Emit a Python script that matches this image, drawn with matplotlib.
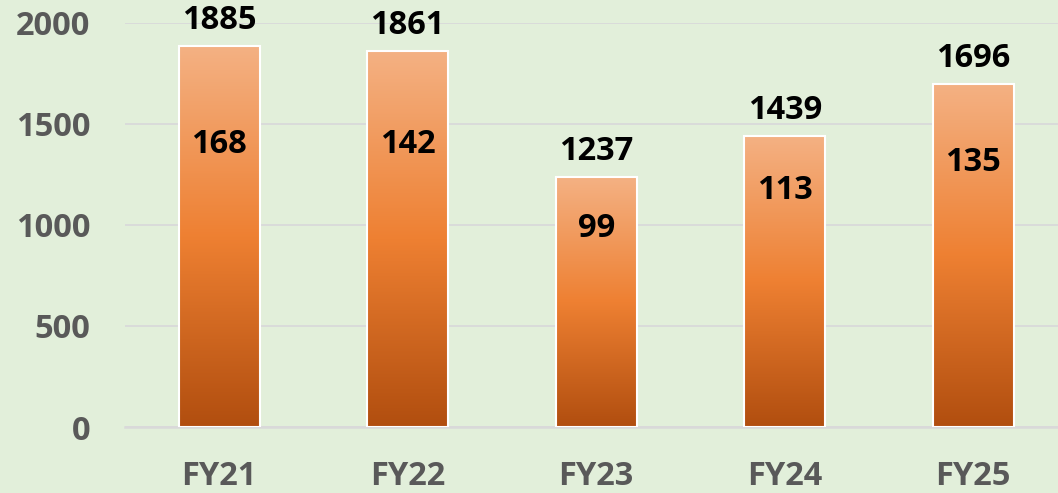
import numpy as np
import matplotlib as mpl
mpl.use('Agg')
from matplotlib import pyplot as plt
from matplotlib.colors import LinearSegmentedColormap

# Data
categories = ['FY21', 'FY22', 'FY23', 'FY24', 'FY25']
totals = [1885, 1861, 1237, 1439, 1696]
inner_values = [168, 142, 99, 113, 135]
yticks = [0, 500, 1000, 1500, 2000]

# Where the inner labels sit (data units)
inner_label_y = [1400, 1400, 985, 1170, 1310]

plt.rcParams['font.family'] = ['Open Sans', 'DejaVu Sans']

bg = '#E2EFDA'
grad = LinearSegmentedColormap.from_list('bar', ['#B14E0F', '#EE8032', '#F4B183'])

fig = plt.figure(figsize=(10.58, 4.93), dpi=100)
fig.patch.set_facecolor(bg)
ax = fig.add_axes([125 / 1058, 1 - 427 / 493, 1 - 125 / 1058, 404 / 493])
ax.set_facecolor(bg)

x = np.arange(len(categories))
bars = ax.bar(x, totals, width=0.43, color='none', edgecolor='white', linewidth=1.5, zorder=3)

# - Gradient fill per bar
g = np.linspace(0, 1, 256).reshape(-1, 1)
for b in bars:
    x0, y0 = b.get_x(), b.get_y()
    w, h = b.get_width(), b.get_height()
    im = ax.imshow(g, cmap=grad, origin='lower', aspect='auto',
                   extent=[x0, x0 + w, y0, y0 + h], zorder=2)
    im.set_clip_path(b)

# - Labels
fs = 23.5
for i, v in enumerate(totals):
    ax.annotate(str(v), (x[i], v), xytext=(0, 18.5), textcoords='offset points',
                ha='center', va='center', fontsize=fs, fontweight='bold', color='black', zorder=4)
for i, v in enumerate(inner_values):
    ax.text(x[i], inner_label_y[i], str(v), ha='center', va='center',
            fontsize=fs, fontweight='bold', color='black', zorder=4)

ax.set_xlim(-0.5, 4.45)
ax.set_ylim(0, 2000)
ax.set_yticks(yticks)
ax.set_xticks(x)
ax.set_xticklabels(categories)
ax.yaxis.grid(True, color='#D9D9D9', linewidth=1.3, zorder=0)
ax.set_axisbelow(True)
for s in ['top', 'right', 'left']:
    ax.spines[s].set_visible(False)
ax.spines['bottom'].set_color('#D9D9D9')
ax.spines['bottom'].set_linewidth(1.8)
ax.tick_params(axis='both', length=0, labelsize=fs, labelcolor='#595959')
ax.tick_params(axis='x', pad=24)
ax.tick_params(axis='y', pad=25)
for lab in ax.get_xticklabels() + ax.get_yticklabels():
    lab.set_fontweight('bold')

plt.savefig('out.png', dpi=100, facecolor=bg)
